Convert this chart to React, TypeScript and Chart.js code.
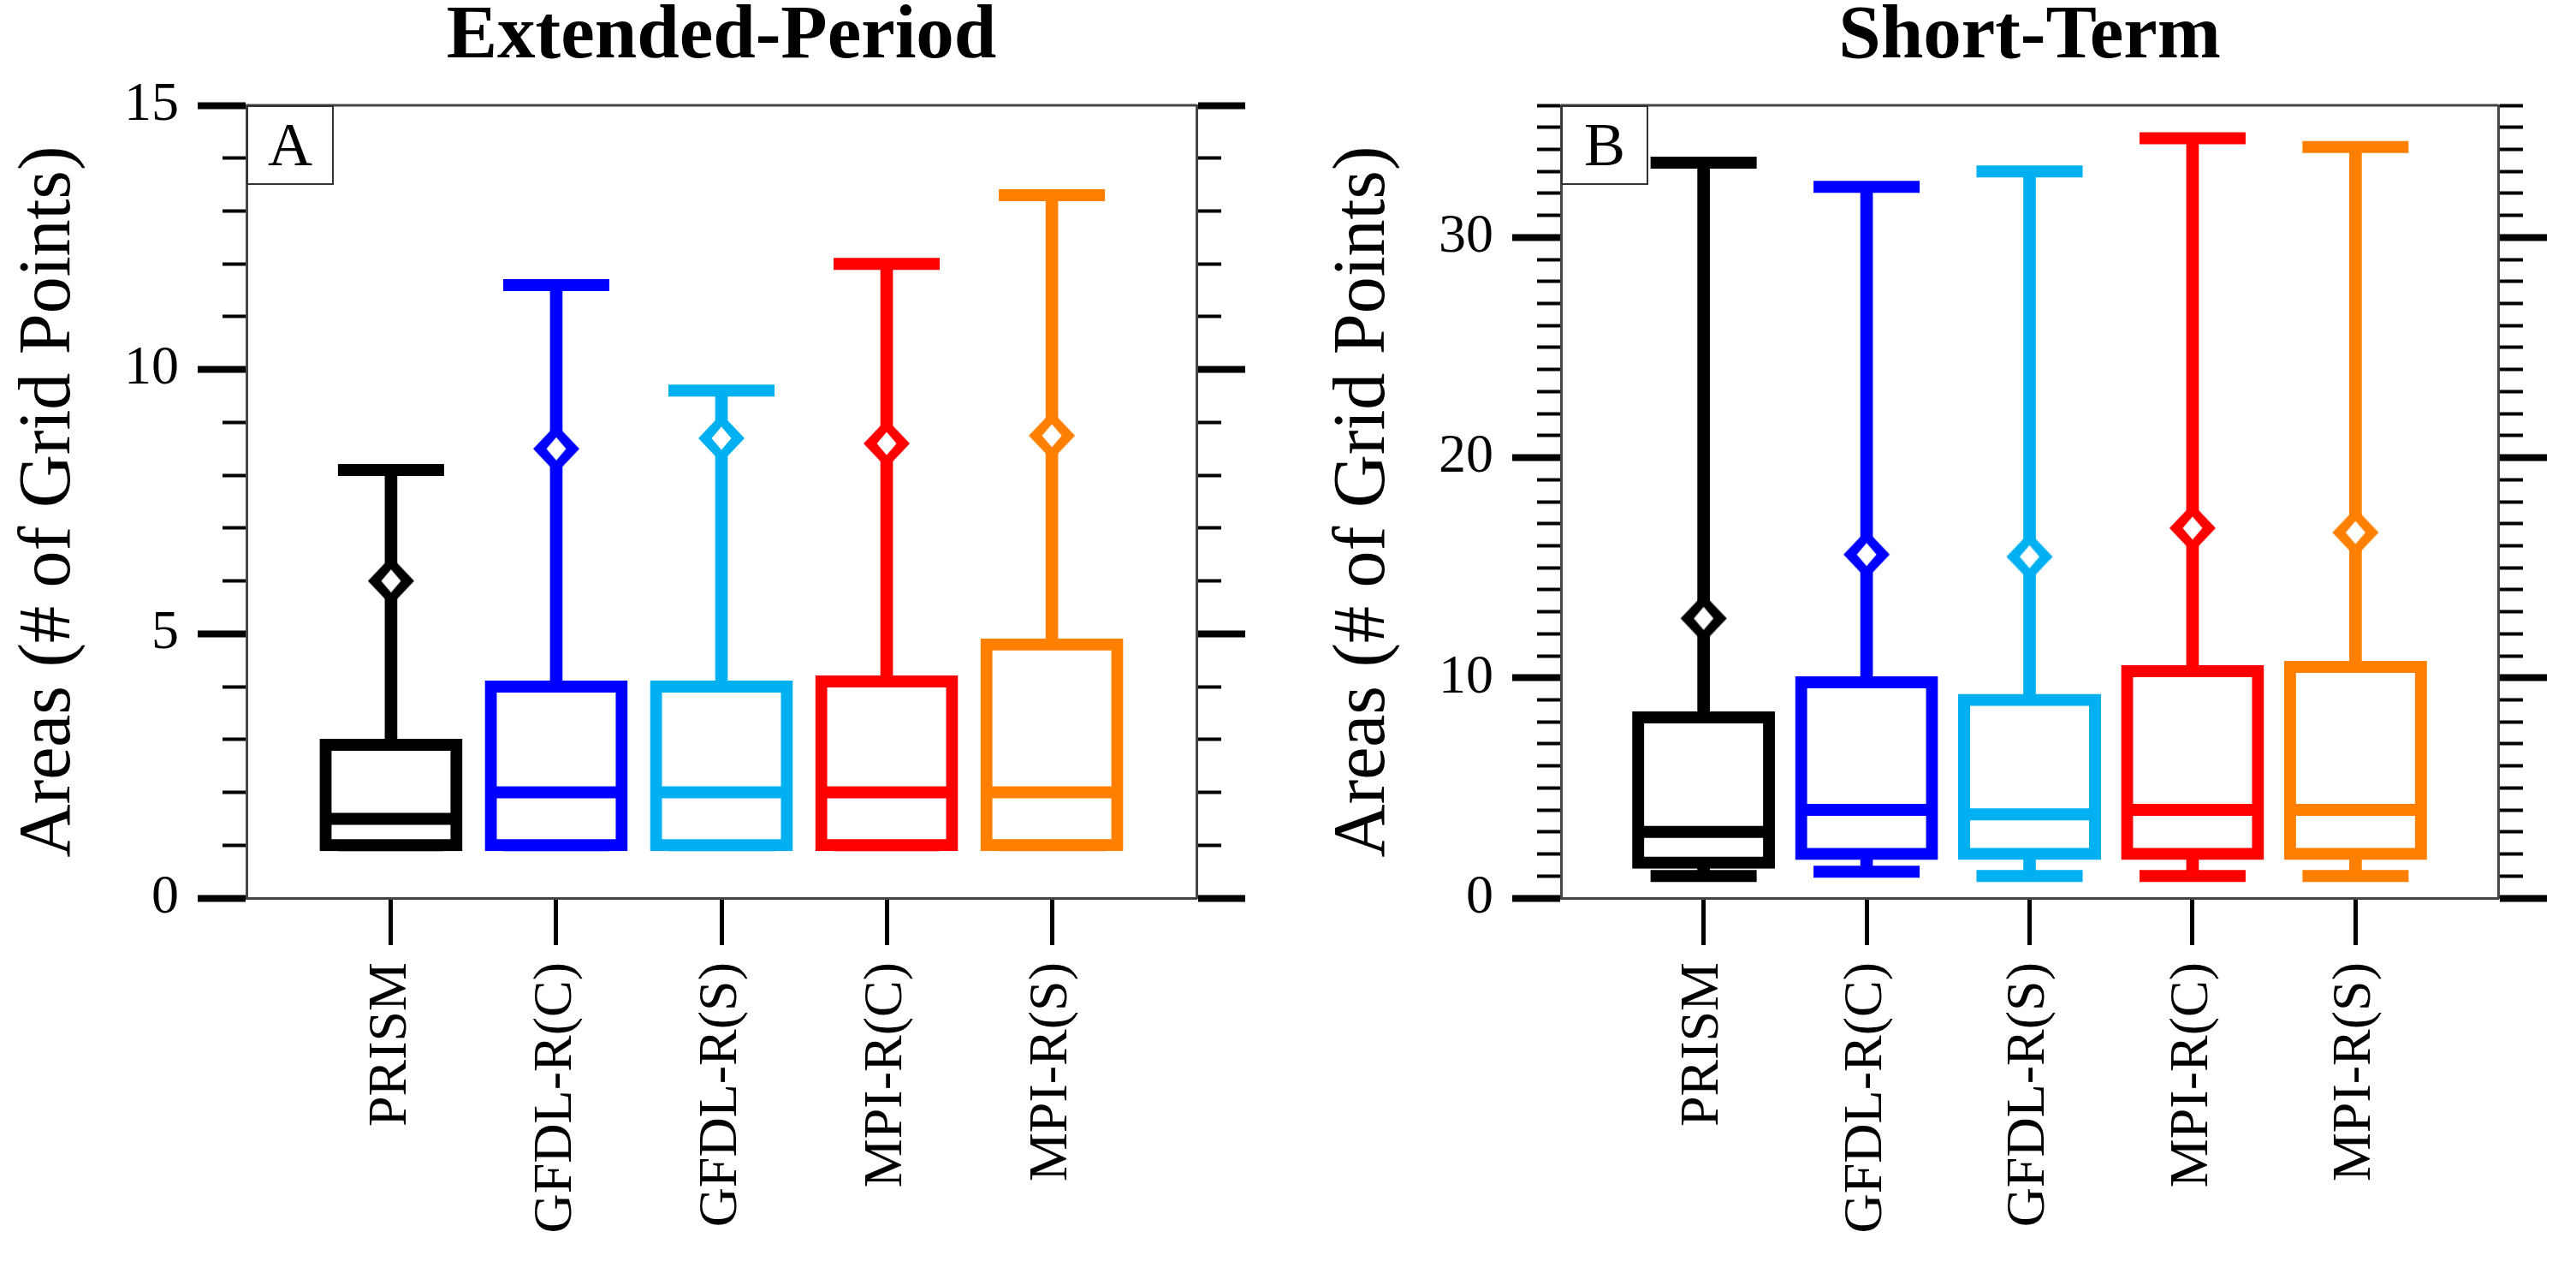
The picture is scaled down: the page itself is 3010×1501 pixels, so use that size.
import React, { useEffect, useRef } from 'react';
import { Chart, registerables } from 'chart.js';

Chart.register(...registerables);

// ---------- data ----------
const categories = ['PRISM', 'GFDL-R(C)', 'GFDL-R(S)', 'MPI-R(C)', 'MPI-R(S)'];
const colors = ['#000000', '#0000FF', '#00B0F0', '#FF0000', '#FF8000'];

// Panel A: Extended-Period
const extMin = [1, 1, 1, 1, 1];
const extQ1 = [1, 1, 1, 1, 1];
const extMedian = [1.5, 2, 2, 2, 2];
const extQ3 = [2.9, 4.0, 4.0, 4.1, 4.8];
const extMax = [8.1, 11.6, 9.6, 12.0, 13.3];
const extMean = [6.0, 8.5, 8.7, 8.6, 8.75];
const extYMax = 15;
const extYMajorLabels = [0, 5, 10, 15];

// Panel B: Short-Term
const shortMin = [1.0, 1.2, 1.0, 1.0, 1.0];
const shortQ1 = [1.6, 2.0, 2.0, 2.0, 2.0];
const shortMedian = [3.0, 4.0, 3.8, 4.0, 4.0];
const shortQ3 = [8.2, 9.8, 9.0, 10.3, 10.5];
const shortMax = [33.4, 32.3, 33.0, 34.5, 34.1];
const shortMean = [12.7, 15.6, 15.5, 16.8, 16.6];
const shortYMax = 36;
const shortYMajorLabels = [0, 10, 20, 30];

// ---------- styling constants ----------
const SERIF = '"Liberation Serif", "Times New Roman", serif';
const CANVAS_H = 1501;
const LEFT_AXIS_W = 288;
const X_AXIS_H = 452;
const FRAME_COLOR = '#444444';

// hollow diamond marker sprite (shape only; placed by Chart.js)
function makeDiamond(color: string): HTMLCanvasElement {
  const c = document.createElement('canvas');
  c.width = 60;
  c.height = 62;
  const g = c.getContext('2d')!;
  const cx = 30;
  const cy = 31;
  const diamond = (hw: number, hh: number) => {
    g.beginPath();
    g.moveTo(cx, cy - hh);
    g.lineTo(cx + hw, cy);
    g.lineTo(cx, cy + hh);
    g.lineTo(cx - hw, cy);
    g.closePath();
  };
  g.fillStyle = color;
  diamond(27, 28.5);
  g.fill();
  g.fillStyle = '#ffffff';
  diamond(11.5, 13.5);
  g.fill();
  return c;
}

const panelDecor = {
  id: 'panelDecor',
  afterDraw(chart: any, _args: any, opts: any) {
    const { ctx, chartArea } = chart;
    ctx.save();
    ctx.strokeStyle = FRAME_COLOR;
    ctx.lineWidth = 3;
    ctx.beginPath();
    ctx.moveTo(chartArea.left, chartArea.top);
    ctx.lineTo(chartArea.right, chartArea.top);
    ctx.stroke();
    const w = 100;
    const h = 91;
    ctx.fillStyle = '#ffffff';
    ctx.fillRect(chartArea.left, chartArea.top, w, h);
    ctx.lineWidth = 2;
    ctx.strokeStyle = '#333333';
    ctx.strokeRect(chartArea.left + 1, chartArea.top + 1, w, h);
    ctx.fillStyle = '#000000';
    ctx.font = `72px ${SERIF}`;
    ctx.textAlign = 'center';
    ctx.textBaseline = 'alphabetic';
    ctx.fillText(opts.letter, chartArea.left + w / 2 + 1, chartArea.top + 70);
    ctx.restore();
  },
};

type Stats = {
  min: number[];
  q1: number[];
  median: number[];
  q3: number[];
  max: number[];
  mean: number[];
};

function makeConfig(
  title: string,
  letter: string,
  s: Stats,
  yMax: number,
  majorLabels: number[],
  rightAxisW: number
): any {
  const xs = categories.map((_, i) => i + 1);
  const yTicks: number[] = [];
  for (let v = 0; v <= yMax; v++) yTicks.push(v);
  const isMajor = (v: number) => majorLabels.includes(v);
  const diamonds = colors.map(makeDiamond);

  const tickWidthFn = (c: any) => (c.tick && isMajor(c.tick.value) ? 8 : 4);

  const datasets: any[] = [
    {
      type: 'scatter',
      label: 'mean',
      order: 0,
      data: xs.map((x, i) => ({ x, y: s.mean[i] })),
      pointStyle: diamonds,
      pointRadius: 30,
      pointBorderWidth: 0,
    },
    {
      type: 'scatter',
      label: 'median',
      order: 1,
      data: xs.map((x, i) => ({ x, y: s.median[i] })),
      pointStyle: 'line',
      pointRadius: 77,
      pointBorderWidth: 14,
      pointBorderColor: colors,
      pointBackgroundColor: colors,
    },
    {
      type: 'bar',
      label: 'box',
      order: 2,
      data: xs.map((x, i) => ({ x, y: [s.q1[i], s.q3[i]] })),
      backgroundColor: '#ffffff',
      borderColor: colors,
      borderWidth: 14,
      borderSkipped: false,
      inflateAmount: 7,
      barThickness: 153,
      grouped: false,
    },
    {
      type: 'scatter',
      label: 'caps',
      order: 3,
      data: [
        ...xs.map((x, i) => ({ x, y: s.max[i] })),
        ...xs.map((x, i) => ({ x, y: s.min[i] })),
      ],
      pointStyle: 'line',
      pointRadius: 62,
      pointBorderWidth: 14,
      pointBorderColor: [...colors, ...colors],
      pointBackgroundColor: [...colors, ...colors],
    },
    {
      type: 'bar',
      label: 'upper whisker',
      order: 4,
      data: xs.map((x, i) => ({ x, y: [s.q3[i], s.max[i]] })),
      backgroundColor: colors,
      borderWidth: 0,
      barThickness: 14,
      grouped: false,
    },
    {
      type: 'bar',
      label: 'lower whisker',
      order: 4,
      data: xs.map((x, i) => ({ x, y: [s.min[i], s.q1[i]] })),
      backgroundColor: colors,
      borderWidth: 0,
      barThickness: 14,
      grouped: false,
    },
  ];

  return {
    type: 'bar',
    data: { datasets },
    plugins: [panelDecor],
    options: {
      responsive: false,
      animation: false,
      events: [],
      layout: { padding: 0 },
      plugins: {
        legend: { display: false },
        tooltip: { enabled: false },
        panelDecor: { letter },
        title: {
          display: true,
          text: title,
          fullSize: false,
          color: '#000000',
          font: { family: SERIF, size: 89, weight: 'bold', lineHeight: 1 },
          padding: { top: 0, bottom: 34 },
        },
      },
      scales: {
        x: {
          type: 'linear',
          position: 'bottom',
          min: 0.125,
          max: 5.875,
          offset: false,
          afterBuildTicks: (axis: any) => {
            axis.ticks = xs.map((v) => ({ value: v }));
          },
          afterFit: (axis: any) => {
            axis.height = X_AXIS_H;
          },
          ticks: {
            autoSkip: false,
            maxRotation: 90,
            minRotation: 90,
            padding: 20,
            color: '#000000',
            font: { family: SERIF, size: 64 },
            callback: (v: number) => categories[Math.round(v) - 1] ?? '',
          },
          grid: {
            display: true,
            offset: false,
            drawOnChartArea: false,
            drawTicks: true,
            tickLength: 55,
            tickWidth: 5,
            tickColor: '#000000',
          },
          border: { display: true, color: FRAME_COLOR, width: 3 },
        },
        y: {
          type: 'linear',
          position: 'left',
          min: 0,
          max: yMax,
          afterBuildTicks: (axis: any) => {
            axis.ticks = yTicks.map((v) => ({ value: v }));
          },
          afterFit: (axis: any) => {
            axis.width = LEFT_AXIS_W;
          },
          ticks: {
            autoSkip: false,
            padding: 22,
            color: '#000000',
            font: { family: SERIF, size: 64 },
            callback: (v: number) => (isMajor(v) ? String(v) : ''),
          },
          grid: {
            display: true,
            drawOnChartArea: false,
            drawTicks: true,
            tickLength: 57,
            tickColor: '#000000',
            tickWidth: tickWidthFn,
            tickBorderDash: (c: any) => (c.tick && isMajor(c.tick.value) ? [] : [0, 29, 100, 0]),
          },
          border: { display: true, color: FRAME_COLOR, width: 3 },
          title: {
            display: true,
            text: 'Areas (# of Grid Points)',
            color: '#000000',
            font: { family: SERIF, size: 86, lineHeight: 1 },
            padding: { top: 15, bottom: 0 },
          },
        },
        y2: {
          type: 'linear',
          axis: 'y',
          position: 'right',
          min: 0,
          max: yMax,
          afterBuildTicks: (axis: any) => {
            axis.ticks = yTicks.map((v) => ({ value: v }));
          },
          afterFit: (axis: any) => {
            axis.width = rightAxisW;
          },
          ticks: { display: false, autoSkip: false },
          grid: {
            display: true,
            drawOnChartArea: false,
            drawTicks: true,
            tickLength: 57,
            tickColor: '#000000',
            tickWidth: tickWidthFn,
            tickBorderDash: (c: any) => (c.tick && isMajor(c.tick.value) ? [] : [27, 100]),
          },
          border: { display: true, color: FRAME_COLOR, width: 3 },
        },
      },
    },
  };
}

function Panel(props: { makeCfg: () => any; left: number; width: number }) {
  const ref = useRef<HTMLCanvasElement | null>(null);
  useEffect(() => {
    if (!ref.current) return;
    const chart = new Chart(ref.current, props.makeCfg());
    return () => chart.destroy();
  }, []);
  return (
    <canvas
      ref={ref}
      width={props.width}
      height={CANVAS_H}
      style={{ position: 'absolute', left: props.left, top: 0, width: props.width, height: CANVAS_H }}
    />
  );
}

export default function App() {
  const extStats: Stats = { min: extMin, q1: extQ1, median: extMedian, q3: extQ3, max: extMax, mean: extMean };
  const shortStats: Stats = {
    min: shortMin,
    q1: shortQ1,
    median: shortMedian,
    q3: shortQ3,
    max: shortMax,
    mean: shortMean,
  };
  return (
    <div style={{ position: 'relative', width: 3010, height: CANVAS_H, background: '#ffffff', overflow: 'hidden' }}>
      <style>{'body{margin:0;background:#ffffff;}'}</style>
      <Panel
        left={0}
        width={1505}
        makeCfg={() => makeConfig('Extended-Period', 'A', extStats, extYMax, extYMajorLabels, 1505 - LEFT_AXIS_W - 1110)}
      />
      <Panel
        left={1536}
        width={1474}
        makeCfg={() => makeConfig('Short-Term', 'B', shortStats, shortYMax, shortYMajorLabels, 1474 - LEFT_AXIS_W - 1113)}
      />
    </div>
  );
}
